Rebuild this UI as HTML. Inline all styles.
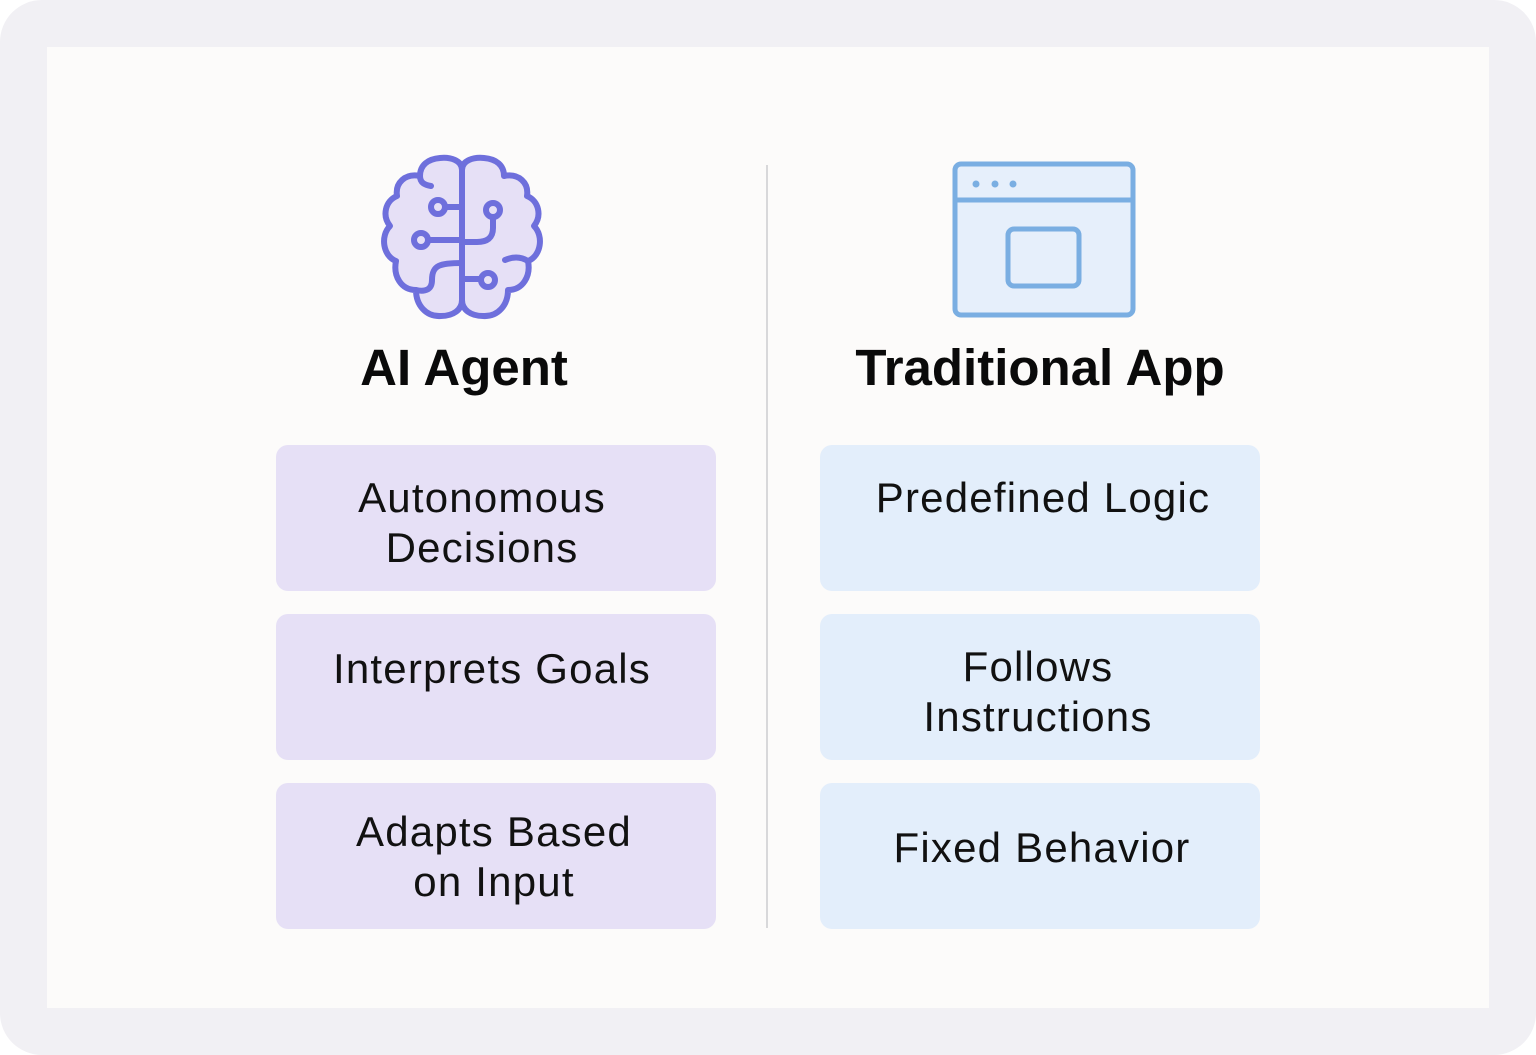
<!DOCTYPE html>
<html><head><style>
body{margin:0;width:1536px;height:1055px;background:#fff;position:relative;overflow:hidden;font-family:"Liberation Sans",sans-serif}
.outer{position:absolute;left:0;top:0;width:1536px;height:1055px;background:#f1f0f4;border-radius:42px}
.inner{position:absolute;left:47px;top:47px;width:1442px;height:961px;background:#fcfbfa}
.box{position:absolute;width:440px;height:146px;border-radius:12px}
.p{left:276px;background:#e6e0f6}
.b{left:820px;background:#e3eefb}
.t{position:absolute;width:440px;text-align:center;font-size:42px;letter-spacing:1.2px;line-height:50px;color:#111}
.h{position:absolute;font-weight:bold;font-size:51px;color:#0a0a0a;text-align:center;width:600px}
</style></head><body>
<div class="outer"></div><div class="inner"></div>
<div style="position:absolute;left:766px;top:165px;width:2px;height:763px;background:#d8d8da"></div>
<svg width="1536" height="1055" style="position:absolute;left:0;top:0">
<g fill="#e6e0f6" stroke="#6e6fdc" stroke-width="6" stroke-linecap="round" stroke-linejoin="round">
<path d="M462,170 C462,160 450,157 440,158 C428,159 420,165 420,176 C405,173 395,183 397,196 C385,201 382,216 390,226 C380,236 383,256 396,261 C393,276 401,290 416,290 C416,305 426,317 441,316 C453,316 462,310 462,300 Z"/>
<path d="M462,170 C462,160 474,157 484,158 C496,159 504,165 504,176 C519,173 529,183 527,196 C539,201 542,216 534,226 C544,236 541,256 528,261 C531,276 523,290 508,290 C508,305 498,317 483,316 C471,316 462,310 462,300 Z"/>
</g>
<g fill="none" stroke="#6e6fdc" stroke-width="6" stroke-linecap="round">
<path d="M462,172 V300"/>
<path d="M420,176 C420,183 425,185 431,186"/>
<path d="M446,207 H462"/><path d="M427,240 H462"/>
<path d="M462,263 C440,263 432,265 432,280 C432,290 425,292 416,290"/>
<path d="M493,216 V228 C493,238 487,242 477,242 H462"/>
<path d="M462,279 H480"/>
<path d="M528,261 C520,256 512,257 505,260"/>
<circle cx="438" cy="207" r="7" fill="#e6e0f6"/>
<circle cx="421" cy="240" r="7" fill="#e6e0f6"/>
<circle cx="493" cy="210" r="7" fill="#e6e0f6"/>
<circle cx="488" cy="280" r="7" fill="#e6e0f6"/>
</g>
<g stroke="#7aaee2" stroke-width="5" fill="#e6effb">
<rect x="955" y="164" width="178" height="151" rx="6"/>
<line x1="955" y1="200" x2="1133" y2="200"/>
<rect x="1008" y="229" width="71" height="57" rx="6"/>
</g>
<g fill="#7aaee2"><circle cx="976" cy="184" r="3.5"/><circle cx="995" cy="184" r="3.5"/><circle cx="1013" cy="184" r="3.5"/></g>
</svg>
<div class="h" style="left:164px;top:338px">AI Agent</div>
<div class="h" style="left:740px;top:338px">Traditional App</div>
<div class="box p" style="top:445px"></div><div class="box p" style="top:614px"></div><div class="box p" style="top:783px"></div>
<div class="box b" style="top:445px"></div><div class="box b" style="top:614px"></div><div class="box b" style="top:783px"></div>
<div class="t" style="left:262px;top:473px">Autonomous<br>Decisions</div>
<div class="t" style="left:272px;top:644px">Interprets Goals</div>
<div class="t" style="left:274px;top:807px">Adapts Based<br>on Input</div>
<div class="t" style="left:823px;top:473px">Predefined Logic</div>
<div class="t" style="left:818px;top:642px">Follows<br>Instructions</div>
<div class="t" style="left:822px;top:823px">Fixed Behavior</div>
</body></html>
